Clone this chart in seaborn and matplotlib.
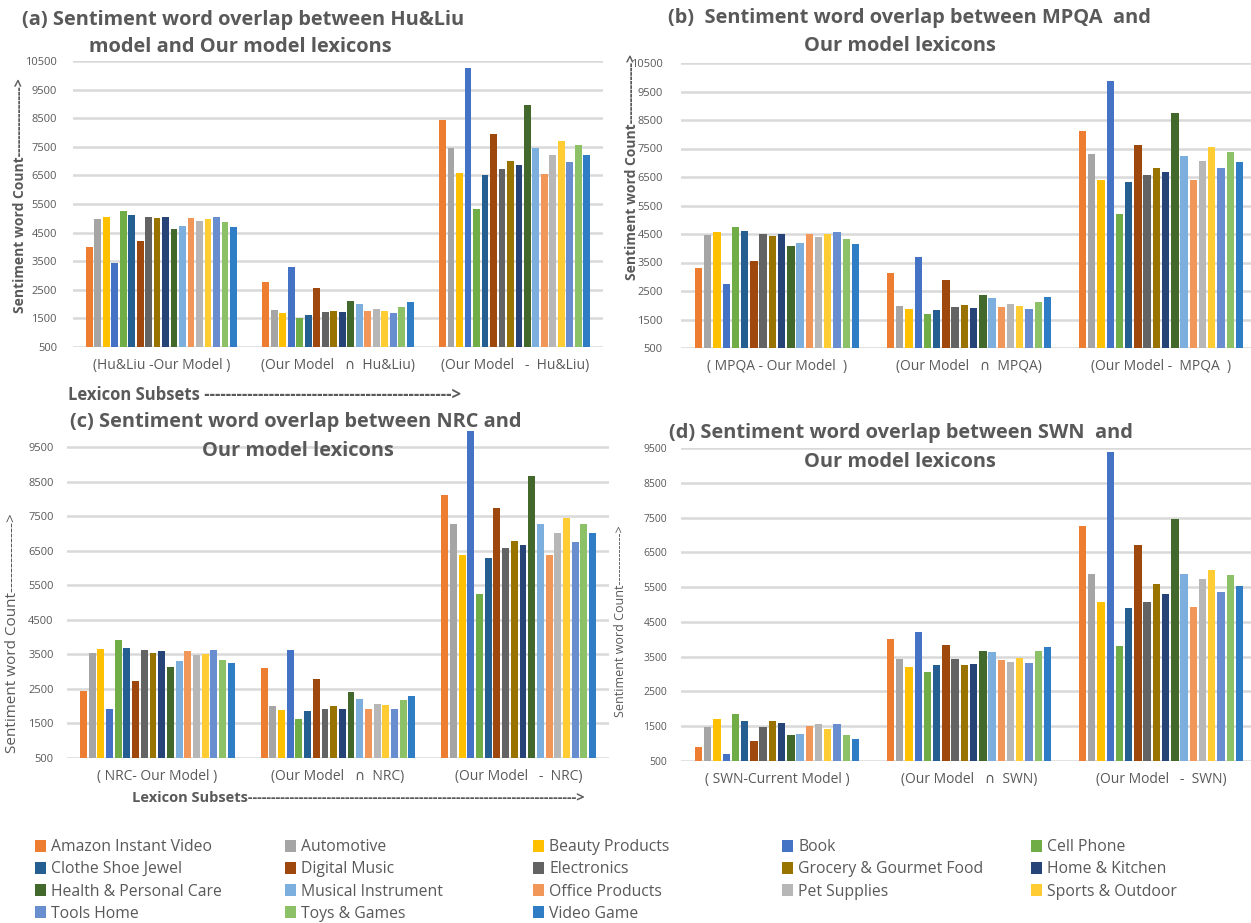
import matplotlib
matplotlib.use("Agg")
import matplotlib.pyplot as plt
import matplotlib.patches as mpatches
import seaborn as sns
import pandas as pd

# Product categories (hue) and their bar colours
categories = [
    "Amazon Instant Video", "Automotive", "Beauty Products", "Book", "Cell Phone",
    "Clothe Shoe Jewel", "Digital Music", "Electronics", "Grocery & Gourmet Food", "Home & Kitchen",
    "Health & Personal Care", "Musical Instrument", "Office Products", "Pet Supplies", "Sports & Outdoor",
    "Tools Home", "Toys & Games", "Video Game",
]
colors = [
    "#ED7D31", "#A5A5A5", "#FFC000", "#4472C4", "#70AD47",
    "#255E91", "#9E480E", "#636363", "#997300", "#264478",
    "#43682B", "#7CAFDD", "#F1975A", "#B7B7B7", "#FFCD33",
    "#698ED0", "#8CC168", "#2F7DC4",
]

# (a) Hu&Liu
huliu_subsets = ["(Hu&Liu -Our Model )", "(Our Model   \u2229  Hu&Liu)", "(Our Model   -  Hu&Liu)"]
huliu_only = [3980, 4960, 5060, 3450, 5240, 5130, 4200, 5030, 5000, 5030, 4640, 4720, 5000, 4920, 4990, 5060, 4860, 4680]
huliu_common = [2760, 1810, 1690, 3300, 1530, 1630, 2550, 1740, 1770, 1740, 2120, 2020, 1750, 1820, 1760, 1680, 1890, 2060]
huliu_ours_only = [8450, 7470, 6570, 10270, 5320, 6500, 7960, 6740, 7020, 6850, 8960, 7470, 6550, 7230, 7690, 6980, 7570, 7230]

# (b) MPQA
mpqa_subsets = ["( MPQA - Our Model  )", "(Our Model   \u2229  MPQA)", "(Our Model -  MPQA  )"]
mpqa_only = [3310, 4470, 4570, 2730, 4760, 4620, 3540, 4510, 4440, 4510, 4090, 4180, 4500, 4400, 4490, 4580, 4330, 4160]
mpqa_common = [3130, 1990, 1870, 3710, 1680, 1820, 2890, 1930, 2000, 1920, 2350, 2250, 1940, 2040, 1960, 1860, 2130, 2280]
mpqa_ours_only = [8100, 7300, 6400, 9880, 5190, 6340, 7630, 6580, 6820, 6690, 8730, 7250, 6380, 7050, 7540, 6820, 7370, 7040]

# (c) NRC
nrc_subsets = ["( NRC- Our Model )", "(Our Model   \u2229  NRC)", "(Our Model   -  NRC)"]
nrc_only = [2440, 3540, 3660, 1920, 3920, 3680, 2740, 3630, 3530, 3610, 3130, 3310, 3610, 3480, 3510, 3620, 3350, 3240]
nrc_common = [3100, 2010, 1890, 3630, 1630, 1870, 2790, 1920, 2010, 1920, 2420, 2220, 1920, 2070, 2040, 1920, 2190, 2300]
nrc_ours_only = [8130, 7280, 6390, 9960, 5240, 6280, 7750, 6590, 6790, 6660, 8670, 7270, 6380, 7020, 7450, 6760, 7290, 7010]

# (d) SWN
swn_subsets = ["( SWN-Current Model )", "(Our Model   \u2229  SWN)", "(Our Model   -  SWN)"]
swn_only = [890, 1490, 1700, 690, 1840, 1640, 1080, 1470, 1640, 1590, 1240, 1270, 1500, 1550, 1420, 1570, 1260, 1120]
swn_common = [4000, 3420, 3190, 4210, 3060, 3250, 3830, 3430, 3250, 3300, 3660, 3630, 3400, 3350, 3470, 3330, 3650, 3770]
swn_ours_only = [7250, 5870, 5070, 9390, 3800, 4910, 6720, 5070, 5580, 5300, 7450, 5870, 4920, 5730, 6000, 5360, 5840, 5540]

W, H = 1251, 923
TEXT = "#595959"
GRID = "#D9D9D9"

sns.set_theme(style="white")
plt.rcParams["font.family"] = ["Open Sans", "DejaVu Sans"]

fig = plt.figure(figsize=(W / 100, H / 100), dpi=100)
fig.patch.set_facecolor("white")


def ftext(x, y, s, **kw):
    kw.setdefault("color", TEXT)
    return fig.text(x / W, 1 - y / H, s, **kw)


def panel(x0, x1, y0, y1, subsets, series, ymax, ytop, tick_size, tick_pad, label_pad):
    ax = fig.add_axes([x0 / W, 1 - y1 / H, (x1 - x0) / W, (y1 - y0) / H])
    df = pd.DataFrame({
        "subset": [s for s, vals in zip(subsets, series) for _ in vals],
        "category": categories * len(series),
        "count": [v for vals in series for v in vals],
    })
    sns.barplot(data=df, x="subset", y="count", hue="category", order=subsets,
                hue_order=categories, palette=colors, saturation=1, width=0.865,
                gap=0.2, errorbar=None, legend=False, linewidth=0, ax=ax)
    ax.set_xlim(-0.5, 2.5)
    ax.set_ylim(500, ymax)
    ax.set_yticks(range(500, ytop + 1, 1000))
    ax.yaxis.grid(True, color=GRID, lw=1.8)
    ax.xaxis.grid(False)
    ax.set_axisbelow(True)
    for sp in ax.spines.values():
        sp.set_visible(False)
    ax.tick_params(axis="y", length=0, pad=tick_pad, labelsize=tick_size, labelcolor=TEXT)
    ax.tick_params(axis="x", length=0, pad=label_pad, labelsize=10, labelcolor=TEXT)
    ax.set_xlabel("")
    ax.set_ylabel("")
    return ax


panel(73, 603, 61, 347, huliu_subsets, [huliu_only, huliu_common, huliu_ours_only],
      10500, 10500, 8, 11.5, 8)
panel(681, 1257, 63, 348, mpqa_subsets, [mpqa_only, mpqa_common, mpqa_ours_only],
      10500, 10500, 8, 13, 8)
panel(67, 609, 430, 758, nrc_subsets, [nrc_only, nrc_common, nrc_ours_only],
      10000, 9500, 8, 9.5, 8)
panel(681, 1257, 448, 761, swn_subsets, [swn_only, swn_common, swn_ours_only],
      9500, 9500, 7.5, 10, 8)

# Panel titles
title_kw = dict(fontsize=14.4, fontweight="bold", va="center")
ftext(22, 20, "(a) Sentiment word overlap between Hu&Liu", ha="left", **title_kw)
ftext(240, 47, "model and Our model lexicons", ha="center", **title_kw)
ftext(668, 18, "(b)  Sentiment word overlap between MPQA  and", ha="left", **title_kw)
ftext(900, 46, "Our model lexicons", ha="center", **title_kw)
ftext(70, 422, "(c) Sentiment word overlap between NRC and", ha="left", **title_kw)
ftext(298, 451, "Our model lexicons", ha="center", **title_kw)
ftext(669, 433, "(d) Sentiment word overlap between SWN  and", ha="left", **title_kw)
ftext(900, 462, "Our model lexicons", ha="center", **title_kw)

# Axis titles
ftext(20, 313, "Sentiment word Count" + "-" * 16 + ">", rotation=90, ha="center", va="bottom",
      fontsize=10, fontweight="bold")
ftext(632, 280, "Sentiment word Count" + "-" * 14 + ">", rotation=90, ha="center", va="bottom",
      fontsize=10, fontweight="bold")
ftext(13, 753, "Sentiment word Count" + "-" * 14 + ">", rotation=90, ha="center", va="bottom",
      fontsize=11)
ftext(620, 717, "Sentiment word Count" + "-" * 13 + ">", rotation=90, ha="center", va="bottom",
      fontsize=9)
ftext(68, 395, "Lexicon Subsets " + "-" * 46 + ">", ha="left", va="center",
      fontsize=12, fontweight="bold")
ftext(132, 798, "Lexicon Subsets" + "-" * 71 + ">", ha="left", va="center",
      fontsize=10.5, fontweight="bold")

# Shared legend, laid out in five columns filled row by row
col_x = [35, 285, 533, 782, 1031]
for c, x in enumerate(col_x):
    idx = list(range(c, len(categories), 5))
    handles = [mpatches.Patch(facecolor=colors[i], edgecolor="none", label=categories[i]) for i in idx]
    fig.legend(handles=handles, loc="upper left", bbox_to_anchor=(x / W, 1 - 839 / H),
               frameon=False, fontsize=11.3, handlelength=0.7, handleheight=0.8,
               handletextpad=0.35, labelspacing=0.4, borderpad=0, borderaxespad=0,
               labelcolor=TEXT)

fig.savefig("out.png", dpi=100, facecolor="white")
